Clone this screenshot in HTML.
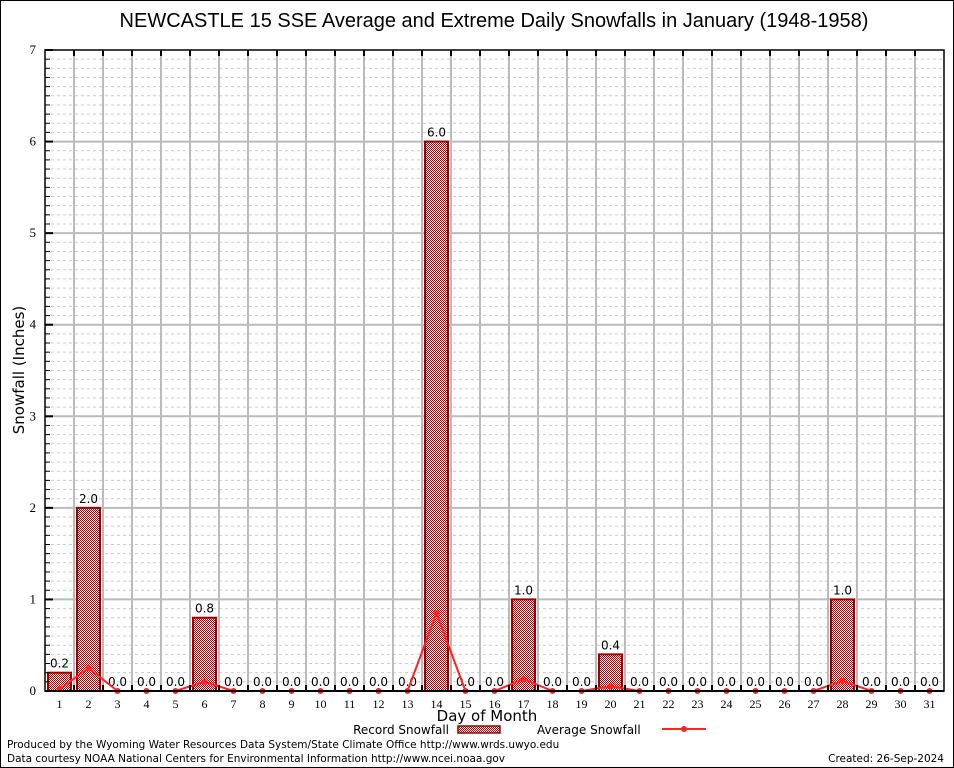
<!DOCTYPE html>
<html><head><meta charset="utf-8"><style>
body{margin:0;background:#fff;}
svg{display:block;font-family:"DejaVu Sans","Liberation Sans",sans-serif;}
</style></head><body>
<svg id="chart" width="954" height="768" viewBox="0 0 954 768" xmlns="http://www.w3.org/2000/svg">
<defs>
<pattern id="hatch" width="2" height="2" patternUnits="userSpaceOnUse">
<rect width="2" height="2" fill="#fff"/>
<rect x="0" y="0" width="1" height="1" fill="#b00000"/>
<rect x="1" y="1" width="1" height="1" fill="#b00000"/>
</pattern>
</defs>
<rect x="0.5" y="0.5" width="953" height="767" fill="#fff" stroke="#000"/>
<text x="494" y="27" font-size="20" text-anchor="middle" font-family="Liberation Sans, sans-serif">NEWCASTLE 15 SSE Average and Extreme Daily Snowfalls in January (1948-1958)</text>
<g id="grid"></g>
<g id="bars"></g>
<g id="line"></g>
<g id="axes"></g>
<text transform="translate(24,370) rotate(-90)" font-size="15" text-anchor="middle">Snowfall (Inches)</text>
<text x="487" y="721" font-size="15" text-anchor="middle">Day of Month</text>
<g>
<text x="449" y="734" font-size="12" text-anchor="end">Record Snowfall</text>
<rect x="458" y="726" width="42" height="7" fill="url(#hatch)" stroke="#a00000" stroke-width="1.5"/>
<text x="537" y="734" font-size="12">Average Snowfall</text>
<line x1="662" y1="729" x2="706" y2="729" stroke="#f22" stroke-width="2"/>
<circle cx="684" cy="729" r="3" fill="#f22"/>
</g>
<text x="7" y="748" font-size="10.5">Produced by the Wyoming Water Resources Data System/State Climate Office http://www.wrds.uwyo.edu</text>
<text x="7" y="762" font-size="10.5">Data courtesy NOAA National Centers for Environmental Information http://www.ncei.noaa.gov</text>
<text x="944" y="762" font-size="10.5" text-anchor="end">Created:  26-Sep-2024</text>
</svg>
<script>
const days=[1,2,3,4,5,6,7,8,9,10,11,12,13,14,15,16,17,18,19,20,21,22,23,24,25,26,27,28,29,30,31];
const recordSnow=[0.2,2.0,0,0,0,0.8,0,0,0,0,0,0,0,6.0,0,0,1.0,0,0,0.4,0,0,0,0,0,0,0,1.0,0,0,0];
const avgSnow=[0.02,0.25,0,0,0,0.1,0,0,0,0,0,0,0,0.85,0,0,0.13,0,0,0.05,0,0,0,0,0,0,0,0.11,0,0,0];
const yTicks=[0,1,2,3,4,5,6,7];

const L=45,R=944,T=50,B=691,yMax=7;
const NS="http://www.w3.org/2000/svg";
const step=(R-L)/days.length;
function xC(i){return L+(i+0.5)*step;}
function yS(v){return B-(v/yMax)*(B-T);}
function mk(tag,attrs,parent){const e=document.createElementNS(NS,tag);for(const k in attrs)e.setAttribute(k,attrs[k]);parent.appendChild(e);return e;}
const grid=document.getElementById('grid'),bars=document.getElementById('bars'),line=document.getElementById('line'),axes=document.getElementById('axes');

for(let m=1;m<yMax*10;m++){if(m%10===0)continue;const y=yS(m/10);
const g=mk('line',{x1:L,x2:R,y1:y,y2:y,stroke:'#ccc','stroke-dasharray':'3,3','stroke-width':1},grid);


const t=mk('line',{x1:L,x2:L+5,y1:y,y2:y,stroke:'#000'},axes);

}
yTicks.forEach(v=>{const y=yS(v);
if(v>0&&v<yMax){const g=mk('line',{x1:L,x2:R,y1:y,y2:y,stroke:'#bbb','stroke-width':2},grid);

}
const t=mk('line',{x1:L,x2:L+8,y1:y,y2:y,stroke:'#000','stroke-width':2},axes);


const tx=mk('text',{x:L-9,y:y+4,'font-size':13,'text-anchor':'end','font-family':'Liberation Serif, serif'},axes);tx.textContent=v;

});
for(let k=1;k<days.length;k++){const x=L+k*step;
const g=mk('line',{x1:x,x2:x,y1:T,y2:B,stroke:'#bbb','stroke-width':2},grid);


const t=mk('line',{x1:x,x2:x,y1:T,y2:T+6,stroke:'#000','stroke-width':2},axes);


const t2=mk('line',{x1:x,x2:x,y1:B,y2:B-6,stroke:'#000','stroke-width':2},axes);

}
days.forEach((d,i)=>{const x=xC(i),v=recordSnow[i];
if(v>0){const r=mk('rect',{x:x-11.5,y:yS(v),width:23,height:B-yS(v),fill:'url(#hatch)',stroke:'#a00000','stroke-width':2},bars);

}
const lb=mk('text',{x:x,y:yS(v)-5,'font-size':12,'text-anchor':'middle'},bars);lb.textContent=v.toFixed(1);


const tx=mk('text',{x:x,y:B+17,'font-size':12,'text-anchor':'middle','font-family':'Liberation Serif, serif'},axes);tx.textContent=d;

});
const pts=avgSnow.map((v,i)=>xC(i)+','+yS(v)).join(' ');
const pl=mk('polyline',{points:pts,fill:'none',stroke:'#f22','stroke-width':2},line);


avgSnow.forEach((v,i)=>{const c=mk('circle',{cx:xC(i),cy:yS(v),r:3,fill:'#f22'},line);

});
const fr=mk('rect',{x:L,y:T,width:R-L,height:B-T,fill:'none',stroke:'#000','stroke-width':1.5},axes);


const bx=mk('line',{x1:L,x2:R,y1:B,y2:B,stroke:'#000','stroke-width':2},axes);


</script>
</body></html>
